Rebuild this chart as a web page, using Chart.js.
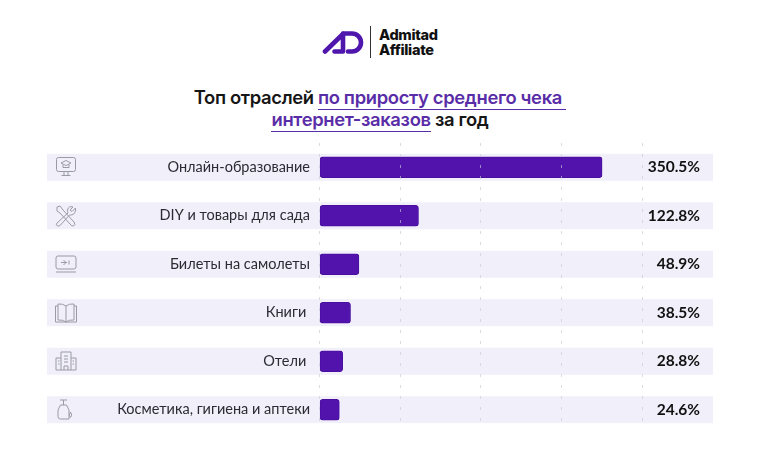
<!DOCTYPE html>
<html lang="ru">
<head>
<meta charset="utf-8">
<title>Топ отраслей</title>
<script src="https://cdn.jsdelivr.net/npm/chart.js@4"></script>
<style>
    html, body { margin: 0; padding: 0; background: #fff; }
    #wrap { position: relative; width: 760px; height: 475px; overflow: hidden; }
    #chart { position: absolute; left: 0; top: 0; }
    #logo, .icon { position: absolute; }
    .brand { position: absolute; left: 379px; font: 800 14.5px/16px Inter, sans-serif; color: #111; letter-spacing: -0.3px; }
    .title { position: absolute; left: 0; width: 760px; text-align: center; font: 600 18.4px/24px Inter, sans-serif; color: #161616; letter-spacing: -0.35px; white-space: pre; }
    .title span { color: #5a2da8; border-bottom: 1px solid #5a2da8; padding-bottom: 1px; }
    .icon { left: 54px; width: 24px; height: 24px; fill: none; stroke: #9a9aa5; stroke-width: 1; }
</style>
</head>
<body>
<div id="wrap">
    <svg id="logo" style="left:322px;top:30px" width="44" height="25" viewBox="0 0 44 25">
        <path d="M3 21.5 L21 4 V21.5 H12.5" fill="none" stroke="#4f16ad" stroke-width="4.6" stroke-linejoin="round" stroke-linecap="round"/>
        <path d="M21 3.5 H30 A9 9 0 0 1 30 21.5 H26" fill="none" stroke="#4f16ad" stroke-width="4.6" stroke-linecap="round"/>
    </svg>
    <div style="position:absolute;left:370px;top:26px;width:1px;height:32px;background:#333"></div>
    <div class="brand" style="top:27px">Admitad</div>
    <div class="brand" style="top:42px">Affiliate</div>
    <div class="title" style="top:85px">Топ отраслей <span>по приросту среднего чека </span></div>
    <div class="title" style="top:107px"><span>интернет-заказов</span> за год</div>
    <canvas id="chart" width="760" height="475"></canvas>

    <svg class="icon" style="top:155px" viewBox="0 0 24 24"><rect x="2.5" y="2.5" width="19" height="14" rx="2"/><path d="M7 8 L12 5.5 L17 8 L12 10.5 Z M9 9.5 V12.5 H15 V9.5 M10 16.5 V20 M14 16.5 V20 M7.5 20.5 H16.5"/></svg>
    <svg class="icon" style="top:204px" viewBox="0 0 24 24"><path d="M3 3 L6 2 L9 6 L20 18 Q22 21 19.5 22 Q18 22.5 16 20 L6 9 L3 7 Z M21.5 4 L18 7.5 L16 6 L19 3 Q14.5 1.5 13.5 6 Q13.5 8 14 9 L3 19 Q1.5 21 3.5 22 Q5 22.5 6.5 21 L15.5 11 Q21 11.5 21.5 6 Z"/></svg>
    <svg class="icon" style="top:252px" viewBox="0 0 24 24"><rect x="2" y="4" width="20" height="13" rx="2"/><path d="M2 20 H22 M7 10.5 H13 M9.5 8 L12 10.5 L9.5 13 M15 8.5 V12.5"/></svg>
    <svg class="icon" style="top:301px" viewBox="0 0 24 24"><path d="M1.5 5 H4 M1.5 5 V21 H22.5 V5 H20 M12 21 V5 Q9 2.5 4 3 V19 Q9 18.5 12 21 Q15 18.5 20 19 V3 Q15 2.5 12 5"/></svg>
    <svg class="icon" style="top:349px" viewBox="0 0 24 24"><path d="M7 21 V3 H17 V21 M7 9 H2 V21 H22 V9 H17 M10 7 H14 M10 10 H14 M10 13 H14 M10 17 H14 V21 M10 17 V21 M4 12 H5.5 M4 15 H5.5 M18.5 12 H20 M18.5 15 H20"/></svg>
    <svg class="icon" style="top:397px" viewBox="0 0 24 24"><path d="M6 3 H13 M9.5 3 V8 M6.5 8 H12.5 L15 13 V22 H6.5 Q4 22 4 19.5 V13 Z M16.5 15 Q14 18.5 16.5 20.5 Q19 18.5 16.5 15"/></svg>
</div>
<script>
    const categories = [
        "Онлайн-образование",
        "DIY и товары для сада",
        "Билеты на самолеты",
        "Книги",
        "Отели",
        "Косметика, гигиена и аптеки"
    ];
    const growth = [350.5, 122.8, 48.9, 38.5, 28.8, 24.6];
    const growthLabels = ["350.5%", "122.8%", "48.9%", "38.5%", "28.8%", "24.6%"];
    const axisTicks = [0, 100, 200, 300, 400];

    // pale band behind every row, has to go down before the axis labels
    const rowBands = {
        id: "rowBands",
        beforeDraw(chart) {
            const { ctx, scales: { y } } = chart;
            ctx.save();
            ctx.fillStyle = "#f1f0fa";
            categories.forEach((c, i) => {
                ctx.fillRect(47, y.getPixelForValue(i) - 13.5, 666, 27);
            });
            ctx.restore();
        }
    };

    const valueLabels = {
        id: "valueLabels",
        afterDraw(chart) {
            const { ctx, chartArea, scales: { y } } = chart;
            ctx.save();
            // grid stops with the last band
            ctx.fillStyle = "#fff";
            ctx.fillRect(chartArea.left - 2, y.getPixelForValue(categories.length - 1) + 13.5, chartArea.width + 4, 12);
            ctx.font = "700 15.5px Lato, sans-serif";
            ctx.fillStyle = "#111";
            ctx.textAlign = "right";
            ctx.textBaseline = "middle";
            growthLabels.forEach((t, i) => {
                ctx.fillText(t, 700, y.getPixelForValue(i));
            });
            ctx.restore();
        }
    };

    new Chart(document.getElementById("chart").getContext("2d"), {
        type: "bar",
        data: {
            labels: categories,
            datasets: [{
                data: growth,
                backgroundColor: "#5213ad",
                borderColor: "#4a0fa0",
                borderWidth: 1,
                borderRadius: 3,
                borderSkipped: false,
                barThickness: 21
            }]
        },
        options: {
            indexAxis: "y",
            responsive: false,
            animation: false,
            layout: { padding: { left: 0, right: 118, top: 143, bottom: 41 } },
            plugins: { legend: { display: false }, tooltip: { enabled: false } },
            scales: {
                x: {
                    min: 0,
                    max: 400,
                    afterBuildTicks(scale) { scale.ticks = axisTicks.map(value => ({ value })); },
                    ticks: { display: false },
                    border: { display: false, dash: [3, 8] },
                    grid: {
                        color: "rgba(200, 200, 216, 0.65)",
                        lineWidth: 1,
                        drawTicks: false,
                        z: 1
                    }
                },
                y: {
                    afterFit(scale) { scale.width = 319.5; },
                    border: { display: false },
                    grid: { display: false, drawTicks: false, tickLength: 0 },
                    ticks: {
                        padding: 9.5,
                        color: "#2b2b33",
                        font: { family: "Lato, sans-serif", size: 14.5 },
                        callback(value, i) {
                            // the two short labels sit a little further from the bars
                            return categories[i] + (i === 3 || i === 4 ? "\u00A0" : "");
                        }
                    }
                }
            }
        },
        plugins: [rowBands, valueLabels]
    });
</script>
</body>
</html>
